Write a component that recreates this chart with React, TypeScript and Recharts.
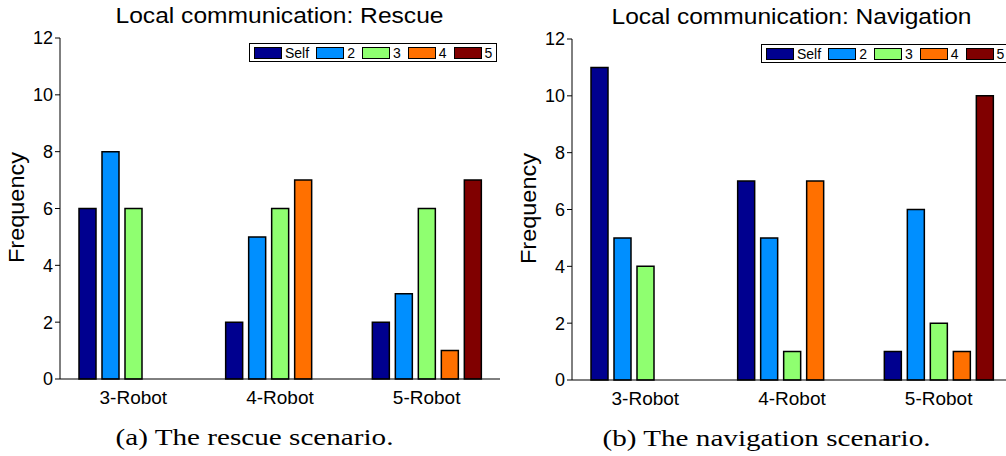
import { BarChart, Bar, XAxis, YAxis, Legend } from "recharts";

const categories = ["3-Robot", "4-Robot", "5-Robot"];
const seriesNames = ["Self", "2", "3", "4", "5"];
const seriesColors = ["#00008f", "#008fff", "#8fff70", "#ff7000", "#800000"];
const yTicks = [0, 2, 4, 6, 8, 10, 12];

// rescue scenario, one array per series (values per category)
const rescueSelf = [6, 2, 2];
const rescue2 = [8, 5, 3];
const rescue3 = [6, 6, 6];
const rescue4 = [0, 7, 1];
const rescue5 = [0, 0, 7];

// navigation scenario
const navSelf = [11, 7, 1];
const nav2 = [5, 5, 6];
const nav3 = [4, 1, 2];
const nav4 = [0, 7, 1];
const nav5 = [0, 0, 10];

const buildRows = (series: number[][]) =>
  categories.map((name, i) => {
    const row: Record<string, string | number> = { name };
    seriesNames.forEach((s, k) => {
      row[s] = series[k][i];
    });
    return row;
  });

const rescueData = buildRows([rescueSelf, rescue2, rescue3, rescue4, rescue5]);
const navData = buildRows([navSelf, nav2, nav3, nav4, nav5]);

const FONT = "'Liberation Sans', Arial, Helvetica, sans-serif";

function BoxLegend(props: any) {
  // keep the series order (recharts sorts the payload by name)
  const items = [...(props.payload || [])].sort(
    (a: any, b: any) => seriesNames.indexOf(a.value) - seriesNames.indexOf(b.value)
  );
  return (
    <div
      style={{
        boxSizing: "border-box",
        width: 248,
        height: 19,
        border: "1px solid #000",
        background: "#fff",
        display: "flex",
        alignItems: "center",
        paddingLeft: 4,
        fontFamily: FONT,
        fontSize: 14,
        color: "#000",
        whiteSpace: "nowrap",
      }}
    >
      {items.map((it: any) => (
        <div key={it.value} style={{ display: "flex", alignItems: "center", marginRight: 7 }}>
          <div
            style={{
              width: 26,
              height: 10,
              background: it.color,
              border: "1.5px solid #000",
            }}
          />
          <span style={{ marginLeft: 3, lineHeight: "14px" }}>{it.value}</span>
        </div>
      ))}
    </div>
  );
}

type PanelProps = {
  left: number;
  top: number;
  data: any[];
  title: string;
  titleLen: number;
  caption: string;
  captionLen: number;
};

function Panel({ left, top, data, title, titleLen, caption, captionLen }: PanelProps) {
  return (
    <div style={{ position: "absolute", left, top, width: 503, height: 456 }}>
      <BarChart
        width={503}
        height={456}
        data={data}
        margin={{ top: 38, right: 3, left: 0, bottom: 47 }}
        barSize={17}
        barGap={6}
      >
        <XAxis
          dataKey="name"
          tickLine={false}
          axisLine={{ stroke: "#000" }}
          tick={{ fill: "#000", fontSize: 19, fontFamily: FONT }}
          tickMargin={6}
          height={30}
        />
        <XAxis
          xAxisId="top"
          dataKey="name"
          orientation="top"
          height={0}
          mirror
          tick={false}
          tickSize={4}
          axisLine={{ stroke: "#000" }}
          tickLine={{ stroke: "#000" }}
        />
        <YAxis
          yAxisId="l"
          domain={[0, 12]}
          ticks={yTicks}
          width={60}
          tickSize={5}
          tickMargin={2}
          axisLine={{ stroke: "#000" }}
          tickLine={{ stroke: "#000" }}
          tick={{ fill: "#000", fontSize: 18, fontFamily: FONT }}
        />
        <YAxis
          yAxisId="r"
          orientation="right"
          domain={[0, 12]}
          ticks={yTicks}
          width={0}
          mirror
          tick={false}
          tickSize={4}
          axisLine={{ stroke: "#000" }}
          tickLine={{ stroke: "#000" }}
        />
        <Legend
          layout="horizontal"
          verticalAlign="middle"
          align="center"
          content={BoxLegend}
          wrapperStyle={{ left: 249, top: 43, width: 248, height: 19 }}
        />
        {seriesNames.map((s, k) => (
          <Bar
            key={s}
            yAxisId="l"
            dataKey={s}
            name={s}
            fill={seriesColors[k]}
            stroke="#000"
            strokeWidth={1.5}
            isAnimationActive={false}
          />
        ))}
      </BarChart>
      <svg
        width={503}
        height={456}
        style={{ position: "absolute", left: 0, top: 0, pointerEvents: "none" }}
      >
        <text
          x={279.5}
          y={23}
          textAnchor="middle"
          fontFamily={FONT}
          fontSize={22}
          fill="#000"
          textLength={titleLen}
          lengthAdjust="spacingAndGlyphs"
        >
          {title}
        </text>
        <text
          transform="translate(24,207.5) rotate(-90)"
          textAnchor="middle"
          fontFamily={FONT}
          fontSize={22}
          fill="#000"
          textLength={111}
          lengthAdjust="spacingAndGlyphs"
        >
          Frequency
        </text>
        <text
          x={254.5}
          y={445}
          textAnchor="middle"
          fontFamily="'Liberation Serif', 'Times New Roman', serif"
          fontSize={23}
          fill="#000"
          textLength={captionLen}
          lengthAdjust="spacingAndGlyphs"
        >
          {caption}
        </text>
      </svg>
    </div>
  );
}

export default function App() {
  return (
    <div
      style={{
        position: "absolute",
        left: 0,
        top: 0,
        width: 1006,
        height: 456,
        overflow: "hidden",
        background: "#fff",
      }}
    >
      <Panel
        left={0}
        top={0}
        data={rescueData}
        title="Local communication: Rescue"
        titleLen={328}
        caption="(a) The rescue scenario."
        captionLen={278}
      />
      <Panel
        left={512}
        top={1}
        data={navData}
        title="Local communication: Navigation"
        titleLen={360}
        caption="(b) The navigation scenario."
        captionLen={328}
      />
    </div>
  );
}
